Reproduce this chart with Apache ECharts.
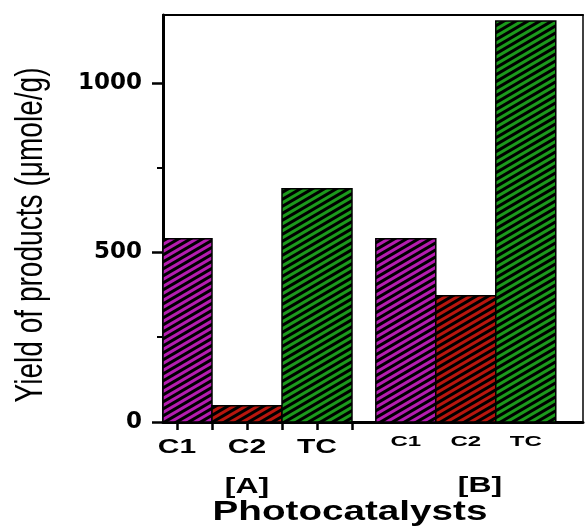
<!DOCTYPE html>
<html>
<head>
<meta charset="utf-8">
<title>Yield of products</title>
<script src="https://cdn.jsdelivr.net/npm/echarts@6/dist/echarts.min.js"></script>
<style>
    html, body { margin: 0; padding: 0; background: #fff; }
    #chart-main { width: 585px; height: 528px; }
</style>
</head>
<body>
<div id="chart-main"></div>
<script>
// data
var catalysts = ['C1', 'C2', 'TC'];
var groupNames = ['[A]', '[B]'];
var yieldA = [540, 48, 688];
var yieldB = [540, 372, 1182];
var yMajorTicks = [0, 500, 1000];
var yMinorTicks = [250, 750];
var barColors = ['#b51cb0', '#b8160e', '#1c9a1c'];

// layout of the two bar groups on a hidden 0..6 value axis
var groupLayout = [
    {start: -0.3, width: 1.0, font: 'bold 20px "Liberation Sans"', scale: 1.5, offset: 25},
    {start: 3.04, width: 0.857, font: 'bold 15px "Liberation Sans"', scale: 1.6, offset: 20}
];

// hatched fill: black "/" stripes on colour
function makePattern(color) {
    var cv = document.createElement('canvas');
    var w = 12, h = 7;
    cv.width = w; cv.height = h;
    var ctx = cv.getContext('2d');
    ctx.fillStyle = color;
    ctx.fillRect(0, 0, w, h);
    ctx.strokeStyle = '#000';
    ctx.lineWidth = 3;
    for (var k = 0; k < 3; k++) {
        var c = k * h;
        ctx.beginPath();
        ctx.moveTo(-2, c + 2 * h / w);
        ctx.lineTo(w + 2, c - (w + 2) * h / w);
        ctx.stroke();
    }
    return {image: cv, repeat: 'repeat'};
}
var patterns = barColors.map(makePattern);

var rows = [];
[yieldA, yieldB].forEach(function (vals, g) {
    vals.forEach(function (v, c) { rows.push([g, c, v]); });
});

// ticks under group A: bar centres and bar edges
var lay0 = groupLayout[0];
var xTicks = [];
for (var i = 0; i < catalysts.length; i++) {
    xTicks.push(lay0.start + (i + 0.5) * lay0.width);
    xTicks.push(lay0.start + (i + 1) * lay0.width);
}

function renderBar(params, api) {
    var g = api.value(0), c = api.value(1), v = api.value(2);
    var lay = groupLayout[g];
    var x0 = Math.max(lay.start + c * lay.width, 0);
    var x1 = lay.start + (c + 1) * lay.width;
    var pTop = api.coord([x0, v]);
    var pBot = api.coord([x1, 0]);
    var mid = api.coord([lay.start + (c + 0.5) * lay.width, 0]);
    return {
        type: 'group',
        children: [
            {
                type: 'rect',
                shape: {x: pTop[0], y: pTop[1], width: pBot[0] - pTop[0], height: pBot[1] - pTop[1]},
                style: {fill: patterns[c], stroke: '#000', lineWidth: 1.5}
            },
            {
                type: 'text',
                x: mid[0],
                y: mid[1] + lay.offset,
                scaleX: lay.scale,
                style: {text: catalysts[c], font: lay.font, fill: '#000', align: 'center', verticalAlign: 'middle'}
            }
        ]
    };
}

var myChart = echarts.init(document.getElementById('chart-main'));
var option = {
    backgroundColor: '#fff',
    animation: false,
    grid: {left: 163, right: 2, top: 15, bottom: 106},
    xAxis: [
        {
            type: 'value', min: 0, max: 6, position: 'bottom',
            axisLine: {show: true, onZero: false, lineStyle: {color: '#000', width: 3}},
            axisTick: {show: true, customValues: xTicks, length: 8, lineStyle: {color: '#000', width: 2.5}},
            axisLabel: {show: false},
            splitLine: {show: false}
        },
        {
            type: 'value', min: 0, max: 6, position: 'top',
            axisLine: {show: true, onZero: false, lineStyle: {color: '#000', width: 2}},
            axisTick: {show: false}, axisLabel: {show: false}, splitLine: {show: false}
        }
    ],
    yAxis: [
        {
            type: 'value', min: 0, max: 1200, interval: 500, position: 'left',
            axisLine: {show: true, onZero: false, lineStyle: {color: '#000', width: 3}},
            axisTick: {show: true, customValues: yMajorTicks, length: 11, lineStyle: {color: '#000', width: 2.5}},
            axisLabel: {
                customValues: yMajorTicks, margin: 21,
                color: '#000', fontSize: 23, fontWeight: 'bold', fontFamily: 'DejaVu Sans',
                formatter: function (v) { return String(v); }
            },
            splitLine: {show: false}
        },
        {
            type: 'value', min: 0, max: 1200, position: 'left',
            axisLine: {show: false, onZero: false},
            axisTick: {show: true, customValues: yMinorTicks, length: 6, lineStyle: {color: '#000', width: 2}},
            axisLabel: {show: false}, splitLine: {show: false}
        },
        {
            type: 'value', min: 0, max: 1200, position: 'right',
            axisLine: {show: true, onZero: false, lineStyle: {color: '#000', width: 1.5}},
            axisTick: {show: false}, axisLabel: {show: false}, splitLine: {show: false}
        }
    ],
    series: [
        {
            type: 'custom',
            renderItem: renderBar,
            encode: {x: 0, y: 2},
            data: rows
        }
    ],
    graphic: [
        {
            type: 'text', x: 31, y: 235, rotation: Math.PI / 2, scaleX: 0.72,
            style: {text: 'Yield of products (\u03bcmole/g)', font: '39px "Liberation Sans"', fill: '#000', align: 'center', verticalAlign: 'middle'}
        },
        {
            type: 'text', x: 247, y: 487, scaleX: 1.45,
            style: {text: groupNames[0], font: 'bold 22px "Liberation Sans"', fill: '#000', align: 'center', verticalAlign: 'middle'}
        },
        {
            type: 'text', x: 480, y: 486, scaleX: 1.45,
            style: {text: groupNames[1], font: 'bold 22px "Liberation Sans"', fill: '#000', align: 'center', verticalAlign: 'middle'}
        },
        {
            type: 'text', x: 350, y: 512, scaleX: 1.38,
            style: {text: 'Photocatalysts', font: 'bold 28px "Liberation Sans"', fill: '#000', align: 'center', verticalAlign: 'middle'}
        }
    ]
};
myChart.setOption(option);
window.onresize = function () {
    myChart.resize();
};
</script>
</body>
</html>
